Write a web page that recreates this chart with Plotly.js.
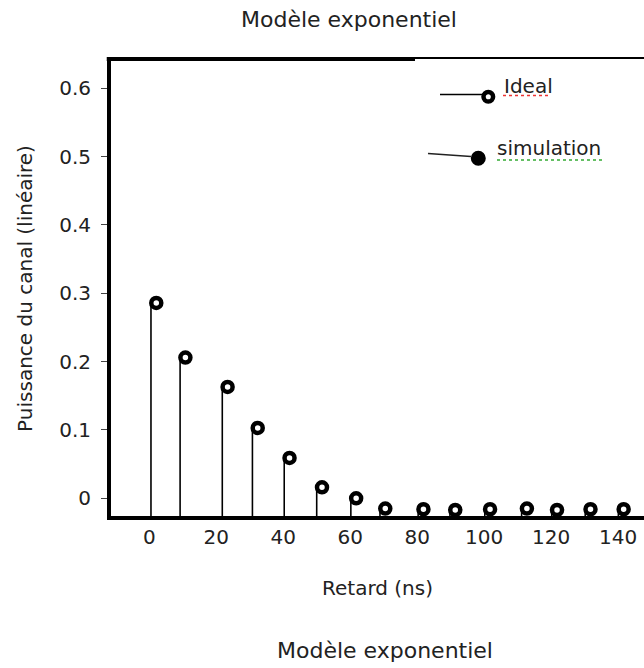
<!DOCTYPE html>
<html>
<head>
<meta charset="utf-8">
<script src="https://cdn.plot.ly/plotly-3.0.1.min.js"></script>
<style>html,body{margin:0;padding:0;background:#fff;}#chart{width:644px;height:668px;}</style>
</head>
<body>
<div id="chart"></div>
<script>
// ---- data ----
const delays = [0.5, 9.2, 21.8, 30.8, 40.3, 50.0, 60.2, 68.9, 80.3, 89.8, 100.2, 111.2, 120.2, 130.2, 140.1];
const power  = [0.286, 0.206, 0.163, 0.103, 0.059, 0.016, 0.000, -0.015, -0.016, -0.017, -0.016, -0.015, -0.017, -0.016, -0.016];
const xTickVals = [0, 20, 40, 60, 80, 100, 120, 140];
const yTickVals = [0, 0.1, 0.2, 0.3, 0.4, 0.5, 0.6];
const yTickText = ['0', '0.1', '0.2', '0.3', '0.4', '0.5', '0.6'];
const titleText = 'Modèle exponentiel';
const xTitle = 'Retard (ns)';
const yTitle = 'Puissance du canal (linéaire)';
const legendLabels = ['Ideal', 'simulation'];

// ---- layout geometry ----
const FONT = 'DejaVu Sans';
const TXT = '#222';
const L = 111, R = 644, T = 61, B = 516;
const W = R - L, H = B - T;
const xRange = [-11.44, 147.76];
const yRange = [-0.0259, 0.640];
const markerShift = 5.3 * (xRange[1] - xRange[0]) / W; // markers drawn slightly right of stems
const px = x => (x - L) / W;
const py = y => (B - y) / H;

// stems built from the data
const stemX = [], stemY = [];
delays.forEach((d, i) => { stemX.push(d, d, null); stemY.push(yRange[0], power[i], null); });

const traces = [
  {type: 'scatter', mode: 'lines', x: stemX, y: stemY, xaxis: 'x', yaxis: 'y',
   line: {color: '#000', width: 1.6}, hoverinfo: 'skip', showlegend: false},
  {type: 'scatter', mode: 'markers', x: delays, y: power, xaxis: 'x2', yaxis: 'y', name: legendLabels[0],
   marker: {symbol: 'circle', size: 10, color: '#fff', line: {color: '#000', width: 4.5}}, showlegend: false}
];

const shapes = [
  // top frame: thick on the left, thinner on the right
  {type: 'line', xref: 'paper', yref: 'paper', ysizemode: 'pixel', yanchor: 1,
   x0: -0.008, x1: px(415), y0: 2, y1: 2, line: {color: '#000', width: 4}},
  {type: 'line', xref: 'paper', yref: 'paper', ysizemode: 'pixel', yanchor: 1,
   x0: px(415), x1: 1, y0: 3, y1: 3, line: {color: '#000', width: 2}},
  // hand-drawn legend
  {type: 'line', xref: 'paper', yref: 'paper', x0: px(440), x1: px(483), y0: py(94.5), y1: py(94.5),
   line: {color: '#000', width: 1.5}},
  {type: 'circle', xref: 'paper', yref: 'paper', xsizemode: 'pixel', ysizemode: 'pixel',
   xanchor: px(488.3), yanchor: py(96.7), x0: -4.8, x1: 4.8, y0: -4.8, y1: 4.8,
   fillcolor: '#fff', line: {color: '#000', width: 4.5}},
  {type: 'line', xref: 'paper', yref: 'paper', x0: px(428), x1: px(471), y0: py(153.5), y1: py(156.5),
   line: {color: '#222', width: 1.5}},
  {type: 'circle', xref: 'paper', yref: 'paper', xsizemode: 'pixel', ysizemode: 'pixel',
   xanchor: px(478.3), yanchor: py(158.3), x0: -7.5, x1: 7.5, y0: -7.5, y1: 7.5,
   fillcolor: '#000', line: {color: '#000', width: 0}},
  {type: 'line', xref: 'paper', yref: 'paper', x0: px(503), x1: px(551), y0: py(95.5), y1: py(95.5),
   line: {color: '#e33', width: 1.5, dash: 'dot'}},
  {type: 'line', xref: 'paper', yref: 'paper', x0: px(497), x1: px(602), y0: py(160), y1: py(160),
   line: {color: '#3a3', width: 1.5, dash: 'dot'}}
];

const annotations = [
  {text: legendLabels[0], xref: 'paper', yref: 'paper', x: px(502), y: py(86), xanchor: 'left', yanchor: 'middle',
   showarrow: false, font: {family: FONT, size: 20, color: TXT}},
  {text: legendLabels[1], xref: 'paper', yref: 'paper', x: px(495), y: py(148), xanchor: 'left', yanchor: 'middle',
   showarrow: false, font: {family: FONT, size: 20, color: TXT}},
  {text: titleText, xref: 'paper', yref: 'paper', x: px(385), y: py(650), xanchor: 'center', yanchor: 'middle',
   showarrow: false, font: {family: FONT, size: 22, color: TXT}}
];

const layout = {
  width: 644, height: 668,
  margin: {l: L, r: 644 - R, t: T, b: 668 - B, pad: 0},
  paper_bgcolor: '#fff', plot_bgcolor: '#fff',
  showlegend: false,
  title: {text: titleText, xref: 'container', yref: 'container', x: 349 / 644, y: 1 - 19 / 668,
          xanchor: 'center', yanchor: 'middle', font: {family: FONT, size: 22, color: TXT}},
  xaxis: {range: xRange, showline: true, linewidth: 4, linecolor: '#000', mirror: false,
          showgrid: false, zeroline: false, ticks: '', tickvals: xTickVals,
          tickfont: {family: FONT, size: 20, color: TXT}, ticklabelstandoff: 0,
          title: {text: xTitle, font: {family: FONT, size: 20, color: TXT}, standoff: 34}},
  xaxis2: {range: [xRange[0] - markerShift, xRange[1] - markerShift], overlaying: 'x', visible: false},
  yaxis: {range: yRange, showline: true, linewidth: 4, linecolor: '#000', mirror: false,
          showgrid: false, zeroline: false, ticks: 'outside', ticklen: 6, tickwidth: 1, tickcolor: '#444',
          tickvals: yTickVals, ticktext: yTickText, ticklabelstandoff: 6,
          tickfont: {family: FONT, size: 20, color: TXT},
          title: {text: yTitle, font: {family: FONT, size: 20, color: TXT}, standoff: 22}},
  shapes: shapes,
  annotations: annotations
};

Plotly.newPlot('chart', traces, layout, {displayModeBar: false, staticPlot: true});
</script>
</body>
</html>
